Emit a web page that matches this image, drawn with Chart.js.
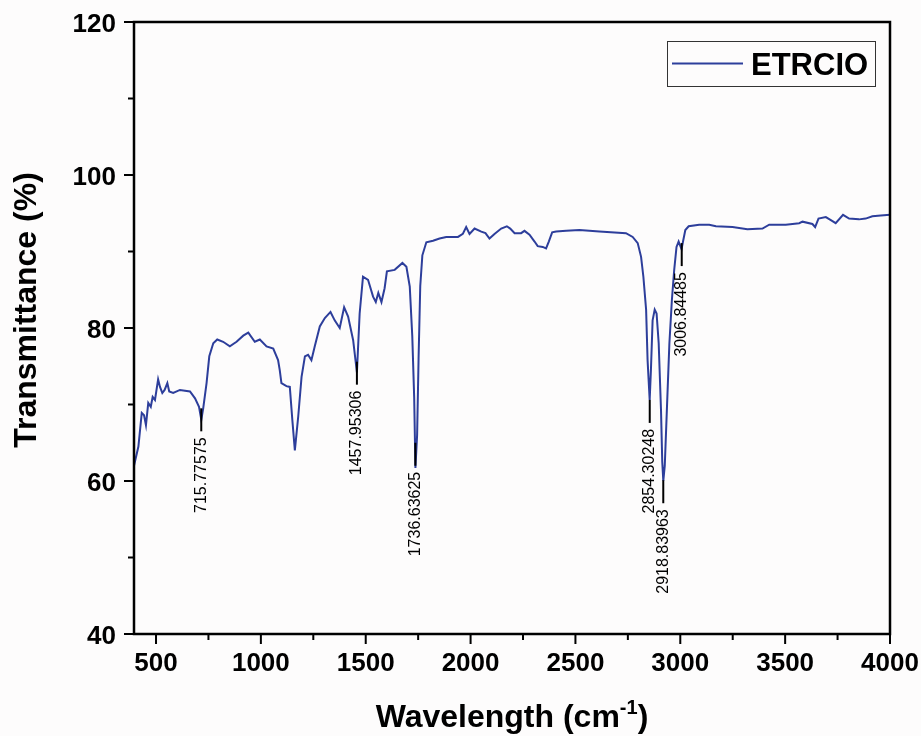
<!DOCTYPE html>
<html>
<head>
<meta charset="utf-8">
<script src="https://cdn.jsdelivr.net/npm/chart.js@4.4.1/dist/chart.umd.min.js"></script>
<style>
  html, body { margin: 0; padding: 0; background: #fdfcfc; }
  canvas { display: block; }
</style>
</head>
<body>
<canvas id="c" width="921" height="736"></canvas>
<script>
// ---- data ----
const seriesLabel = 'ETRCIO';
const wavenumber = [395,416,432,443,452,463,475,484,495,510,519,530,541,554,563,582,614,662,686,705,716,725,741,754,773,792,820,852,884,916,940,971,995,1027,1059,1082,1090,1098,1122,1138,1150,1162,1178,1194,1210,1225,1241,1257,1281,1305,1332,1352,1376,1397,1416,1440,1458,1471,1487,1511,1535,1548,1560,1575,1590,1601,1638,1675,1694,1710,1722,1731,1737,1745,1752,1760,1770,1789,1821,1852,1884,1916,1940,1963,1979,1995,2019,2051,2071,2090,2114,2146,2173,2189,2210,2241,2257,2281,2305,2320,2344,2360,2373,2389,2408,2456,2519,2614,2741,2773,2797,2813,2824,2837,2844,2854,2860,2868,2878,2887,2897,2908,2914,2919,2926,2936,2948,2960,2971,2982,2992,3006,3013,3024,3040,3090,3138,3170,3249,3320,3392,3424,3503,3567,3583,3630,3643,3659,3694,3718,3741,3776,3805,3852,3884,3916,3956,4000];
const transmittance = [62.0,64.5,68.9,68.6,67.3,70.2,69.7,71.0,70.6,73.3,72.3,71.5,71.9,72.8,71.7,71.5,71.9,71.7,70.8,69.7,68.0,69.5,72.8,76.3,78.0,78.5,78.2,77.6,78.2,79.0,79.4,78.2,78.5,77.6,77.3,75.8,74.5,72.8,72.4,72.3,68.0,64.0,68.4,73.6,76.3,76.5,75.8,77.6,80.2,81.3,82.1,81.0,80.0,82.7,81.5,78.4,74.2,81.9,86.7,86.3,84.1,83.4,84.6,83.4,85.2,87.4,87.6,88.5,88.0,85.4,78.9,71.0,61.7,66.0,76.0,85.5,89.5,91.2,91.4,91.7,91.9,91.9,91.9,92.3,93.2,92.3,93.0,92.6,92.4,91.7,92.3,93.0,93.3,93.0,92.4,92.4,92.7,92.2,91.3,90.7,90.6,90.4,91.3,92.5,92.6,92.7,92.8,92.6,92.4,91.9,91.1,89.3,86.7,82.4,75.8,70.6,74.5,81.0,82.4,81.9,78.0,69.3,62.5,60.0,62.0,69.3,78.0,83.7,87.6,90.6,91.3,90.3,91.3,92.8,93.3,93.5,93.5,93.3,93.2,92.9,93.0,93.5,93.5,93.7,93.9,93.6,93.2,94.3,94.5,94.1,93.7,94.8,94.3,94.2,94.3,94.6,94.7,94.8];

// peak annotations: wavenumber, label text, transmittance where the marker starts
const peakWavenumber = [715.77575, 1457.95306, 1736.63625, 2854.30248, 2918.83963, 3006.84485];
const peakText = ['715.77575', '1457.95306', '1736.63625', '2854.30248', '2918.83963', '3006.84485'];
const peakMarkT = [69.5, 75.6, 65.0, 70.6, 60.1, 91.1];

const xTickLabels = [500, 1000, 1500, 2000, 2500, 3000, 3500, 4000];
const xMinorTicks = [750, 1250, 1750, 2250, 2750, 3250, 3750];
const yTickLabels = [40, 60, 80, 100, 120];
const yMinorTicks = [50, 70, 90, 110];
const xRange = [395, 4000];
const yRange = [40, 120];

const xTitle = 'Wavelength (cm';
const xTitleSup = '-1';
const yTitle = 'Transmittance (%)';

// ---- drawing ----
const FONT = '"Liberation Sans", Arial, Helvetica, sans-serif';
const lineColor = '#2d3e9b';

const points = wavenumber.map((w, i) => ({ x: w, y: transmittance[i] }));

const decor = {
  id: 'decor',
  beforeDraw(chart) {
    const ctx = chart.ctx;
    ctx.save();
    ctx.fillStyle = '#fdfcfc';
    ctx.fillRect(0, 0, chart.width, chart.height);
    ctx.restore();
  },
  afterDraw(chart) {
    const ctx = chart.ctx;
    const a = chart.chartArea;
    const xs = chart.scales.x, ys = chart.scales.y;
    ctx.save();
    // frame
    ctx.strokeStyle = '#000';
    ctx.lineWidth = 2.5;
    ctx.strokeRect(a.left, a.top, a.right - a.left, a.bottom - a.top);
    // ticks
    ctx.lineWidth = 2;
    ctx.beginPath();
    xTickLabels.forEach(v => { const p = xs.getPixelForValue(v); ctx.moveTo(p, a.bottom); ctx.lineTo(p, a.bottom + 10); });
    xMinorTicks.forEach(v => { const p = xs.getPixelForValue(v); ctx.moveTo(p, a.bottom); ctx.lineTo(p, a.bottom + 6); });
    yTickLabels.forEach(v => { const p = ys.getPixelForValue(v); ctx.moveTo(a.left, p); ctx.lineTo(a.left - 10, p); });
    yMinorTicks.forEach(v => { const p = ys.getPixelForValue(v); ctx.moveTo(a.left, p); ctx.lineTo(a.left - 6, p); });
    ctx.stroke();

    // tick labels
    ctx.fillStyle = '#000';
    ctx.textBaseline = 'alphabetic';
    ctx.font = 'bold 26px ' + FONT;
    ctx.textAlign = 'center';
    xTickLabels.forEach(v => { ctx.fillText(String(v), xs.getPixelForValue(v), a.bottom + 37); });
    ctx.textAlign = 'right';
    yTickLabels.forEach(v => { ctx.fillText(String(v), a.left - 18, ys.getPixelForValue(v) + 9.5); });

    // peak annotations
    ctx.font = '16px ' + FONT;
    peakWavenumber.forEach((w, i) => {
      const px = xs.getPixelForValue(w);
      const py = ys.getPixelForValue(peakMarkT[i]);
      ctx.beginPath();
      ctx.lineWidth = 2;
      ctx.moveTo(px, py);
      ctx.lineTo(px, py + 23);
      ctx.stroke();
      ctx.save();
      ctx.translate(px, py + 29);
      ctx.rotate(-Math.PI / 2);
      ctx.textAlign = 'right';
      ctx.textBaseline = 'middle';
      ctx.fillText(peakText[i], 0, 0);
      ctx.restore();
    });

    // legend
    ctx.strokeStyle = '#333';
    ctx.lineWidth = 1;
    ctx.strokeRect(667.5, 41.5, 208, 45);
    ctx.strokeStyle = lineColor;
    ctx.lineWidth = 2;
    ctx.beginPath();
    ctx.moveTo(672, 63.5);
    ctx.lineTo(743, 63.5);
    ctx.stroke();
    ctx.fillStyle = '#000';
    ctx.font = 'bold 31px ' + FONT;
    ctx.textAlign = 'left';
    ctx.textBaseline = 'alphabetic';
    ctx.fillText(seriesLabel, 751, 75);

    // axis titles
    ctx.font = 'bold 32px ' + FONT;
    const mainW = ctx.measureText(xTitle).width;
    ctx.font = 'bold 20px ' + FONT;
    const supW = ctx.measureText(xTitleSup).width;
    ctx.font = 'bold 32px ' + FONT;
    const closeW = ctx.measureText(')').width;
    const total = mainW + supW + closeW;
    const cx = (a.left + a.right) / 2;
    let x0 = cx - total / 2;
    const base = 727;
    ctx.textAlign = 'left';
    ctx.fillText(xTitle, x0, base);
    ctx.font = 'bold 20px ' + FONT;
    ctx.fillText(xTitleSup, x0 + mainW, base - 13);
    ctx.font = 'bold 32px ' + FONT;
    ctx.fillText(')', x0 + mainW + supW, base);

    ctx.save();
    ctx.translate(36, 310);
    ctx.rotate(-Math.PI / 2);
    ctx.textAlign = 'center';
    ctx.textBaseline = 'alphabetic';
    ctx.fillText(yTitle, 0, 0);
    ctx.restore();

    ctx.restore();
  }
};

new Chart(document.getElementById('c'), {
  type: 'line',
  data: {
    datasets: [{
      label: seriesLabel,
      data: points,
      borderColor: lineColor,
      borderWidth: 2,
      pointRadius: 0,
      tension: 0,
      fill: false
    }]
  },
  options: {
    responsive: false,
    animation: false,
    layout: { padding: { top: 22, right: 31, left: 0, bottom: 0 } },
    plugins: { legend: { display: false }, tooltip: { enabled: false } },
    scales: {
      x: {
        type: 'linear',
        min: xRange[0], max: xRange[1],
        afterBuildTicks(s) { s.ticks = xTickLabels.map(v => ({ value: v })); },
        afterFit(s) { s.height = 102; },
        grid: { display: false, drawTicks: false },
        border: { display: false },
        ticks: { display: false }
      },
      y: {
        min: yRange[0], max: yRange[1],
        afterBuildTicks(s) { s.ticks = yTickLabels.map(v => ({ value: v })); },
        afterFit(s) { s.width = 134; },
        grid: { display: false, drawTicks: false },
        border: { display: false },
        ticks: { display: false }
      }
    }
  },
  plugins: [decor]
});
</script>
</body>
</html>
